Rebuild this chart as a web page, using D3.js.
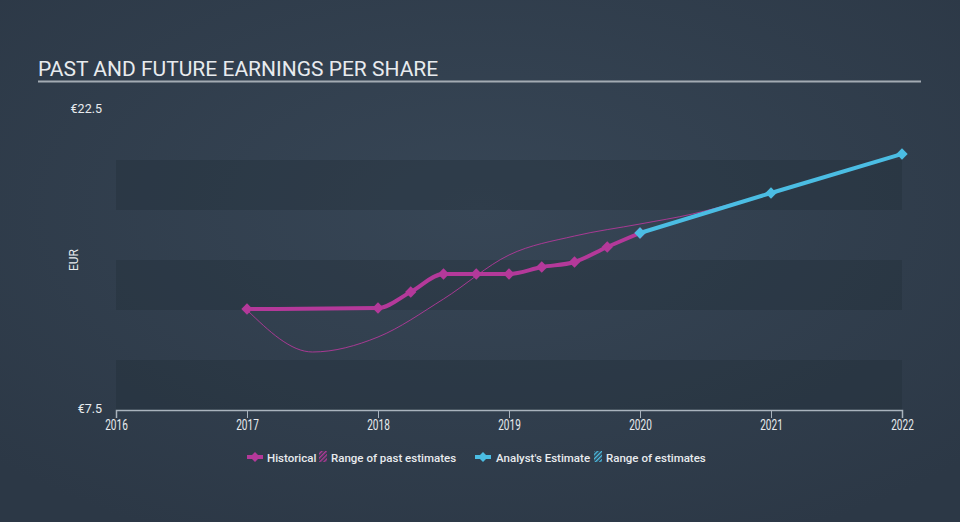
<!DOCTYPE html>
<html>
<head>
<meta charset="utf-8">
<script src="https://cdn.jsdelivr.net/npm/d3@7"></script>
<style>
  html, body { margin: 0; padding: 0; background: #313f4e; }
  svg { display: block; font-family: Roboto, "Noto Sans", sans-serif; }
</style>
</head>
<body>
<svg id="chart" width="960" height="522"></svg>
<script>
// values
var histYears   = [2017.0, 2018.0, 2018.25, 2018.5, 2018.75, 2019.0, 2019.25, 2019.5, 2019.75, 2020.0],
    histEps     = [12.55, 12.6, 13.4, 14.3, 14.3, 14.3, 14.65, 14.9, 15.65, 16.35],
    pastYears   = [2017.0, 2017.5, 2018.0, 2018.5, 2019.0, 2019.5, 2020.0, 2020.4, 2020.75],
    pastEst     = [12.5, 10.4, 11.15, 13.05, 15.25, 16.2, 16.8, 17.3, 17.9],
    futYears    = [2020.0, 2021.0, 2022.0],
    futEps      = [16.35, 18.35, 20.3],
    xTicks      = [2016, 2017, 2018, 2019, 2020, 2021, 2022],
    yLabels     = [22.5, 7.5],
    bandStarts  = [7.5, 12.5, 17.5];

(function() {
var pink = '#b4399a', blue = '#4bbde3', textCol = '#e8ebee';

var svg = d3.select('#chart'),
    W = 960, H = 522,
    pLeft = 116, pRight = 902, pTop = 110, pBottom = 410;

var defs = svg.append('defs');
var grad = defs.append('radialGradient').attr('id', 'bg')
  .attr('cx', '50%').attr('cy', '40%').attr('r', '70%');
grad.append('stop').attr('offset', '0%').attr('stop-color', '#374656');
grad.append('stop').attr('offset', '100%').attr('stop-color', '#2c3846');
svg.append('rect').attr('width', W).attr('height', H).attr('fill', 'url(#bg)');

function hatch(id, col) {
  var p = defs.append('pattern').attr('id', id).attr('patternUnits', 'userSpaceOnUse')
    .attr('width', 3).attr('height', 3).attr('patternTransform', 'rotate(45)');
  p.append('rect').attr('width', 1.4).attr('height', 3).attr('fill', col);
}
hatch('hatchPink', pink);
hatch('hatchBlue', blue);

var x = d3.scaleLinear().domain([2016, 2022]).range([pLeft, pRight]),
    y = d3.scaleLinear().domain([7.5, 22.5]).range([pBottom, pTop]);

// bands
svg.selectAll('.band').data(bandStarts).enter()
  .append('rect').attr('class', 'band')
  .attr('x', pLeft).attr('width', pRight - pLeft)
  .attr('y', function(d) { return y(d + 2.5); })
  .attr('height', function(d) { return y(d) - y(d + 2.5); })
  .attr('fill', '#1f2a36').attr('fill-opacity', 0.32);

// title
svg.append('text').attr('x', 38).attr('y', 76)
  .attr('fill', textCol).attr('font-size', 21)
  .text('PAST AND FUTURE EARNINGS PER SHARE');
svg.append('line').attr('x1', 38).attr('x2', 921).attr('y1', 81.5).attr('y2', 81.5)
  .attr('stroke', '#a3abb3').attr('stroke-width', 2);

// y labels
svg.selectAll('.ylab').data(yLabels).enter()
  .append('text').attr('class', 'ylab')
  .attr('x', 102).attr('y', function(d) { return y(d) + 3; })
  .attr('text-anchor', 'end').attr('font-size', 12.5).attr('fill', textCol)
  .text(function(d) { return '€' + d; });
svg.append('text').attr('transform', 'translate(78,' + ((pTop + pBottom) / 2) + ') rotate(-90)')
  .attr('text-anchor', 'middle').attr('font-size', 12).attr('fill', textCol).text('EUR');

// x axis
var xAxis = svg.append('g').attr('transform', 'translate(0,' + pBottom + ')')
  .call(d3.axisBottom(x).tickValues(xTicks).tickFormat(d3.format('d')).tickSize(8).tickPadding(2));
xAxis.select('.domain').attr('stroke', '#a9b3bd').attr('stroke-width', 1.5);
xAxis.selectAll('.tick line').attr('stroke', '#a9b3bd');
xAxis.selectAll('.tick text').attr('fill', textCol).attr('font-size', 14)
  .attr('transform', 'scale(0.72,1)')
  .attr('font-family', 'Roboto, sans-serif');

var line = d3.line().curve(d3.curveMonotoneX)
  .x(function(d) { return x(d[0]); }).y(function(d) { return y(d[1]); });

// past estimate range (thin)
svg.append('path')
  .datum(d3.zip(pastYears, pastEst))
  .attr('fill', 'none').attr('stroke', pink).attr('stroke-width', 1).attr('stroke-opacity', 0.9)
  .attr('d', line);

var diamond = d3.symbol().type(d3.symbolSquare).size(64);

function series(years, vals, col) {
  var pts = d3.zip(years, vals);
  svg.append('path').datum(pts)
    .attr('fill', 'none').attr('stroke', col).attr('stroke-width', 4)
    .attr('stroke-linejoin', 'round').attr('d', line);
  svg.selectAll(null).data(pts).enter()
    .append('path').attr('d', diamond).attr('fill', col)
    .attr('transform', function(d) { return 'translate(' + x(d[0]) + ',' + y(d[1]) + ') rotate(45)'; });
}
series(histYears, histEps, pink);
series(futYears, futEps, blue);

// legend
var lg = svg.append('g').attr('font-size', 11.5).attr('fill', textCol).attr('font-weight', 500);
function legendMark(cx, col) {
  lg.append('line').attr('x1', cx - 8).attr('x2', cx + 8).attr('y1', 457).attr('y2', 457)
    .attr('stroke', col).attr('stroke-width', 4);
  lg.append('path').attr('d', d3.symbol().type(d3.symbolSquare).size(50))
    .attr('fill', col).attr('transform', 'translate(' + cx + ',457) rotate(45)');
}
legendMark(255, pink);
lg.append('text').attr('x', 267).attr('y', 461.5).text('Historical');
lg.append('rect').attr('x', 319).attr('y', 451).attr('width', 8).attr('height', 11).attr('fill', 'url(#hatchPink)');
lg.append('text').attr('x', 331).attr('y', 461.5).text('Range of past estimates');
legendMark(483, blue);
lg.append('text').attr('x', 496).attr('y', 461.5).text("Analyst's Estimate");
lg.append('rect').attr('x', 594).attr('y', 451).attr('width', 8).attr('height', 11).attr('fill', 'url(#hatchBlue)');
lg.append('text').attr('x', 606).attr('y', 461.5).text('Range of estimates');
})();
</script>
</body>
</html>
